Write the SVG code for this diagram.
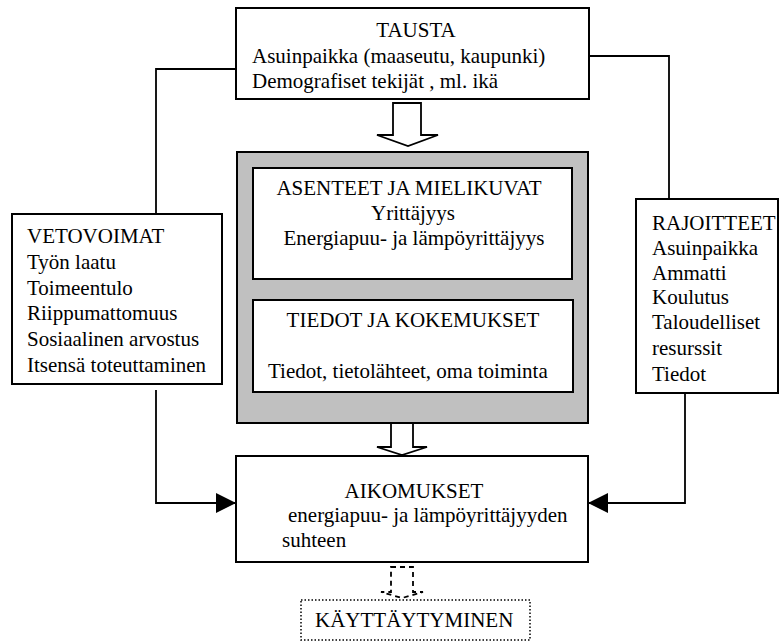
<svg xmlns="http://www.w3.org/2000/svg" width="783" height="642" viewBox="0 0 783 642" font-family="'Liberation Serif', 'DejaVu Serif', serif">
<style>
text{font-family:'Liberation Serif','Times New Roman','DejaVu Serif',serif;font-size:21px;fill:#000}
.box{fill:#fff;stroke:#000;stroke-width:2}
.ln{fill:none;stroke:#000;stroke-width:1.8}
.c{text-anchor:middle}
</style>
<defs>
<marker id="ah" viewBox="0 0 20 20" refX="20" refY="10" markerWidth="20" markerHeight="20" markerUnits="userSpaceOnUse" orient="auto">
<path d="M0,0 L20,10 L0,20 Z" fill="#000"/>
</marker>
</defs>
<rect width="783" height="642" fill="#fff"/>
<g id="connectors">
<polyline class="ln" points="236,69 156,69 156,214"/>
<polyline class="ln" points="589,56 669,56 669,199"/>
<polyline class="ln" points="156,390 156,503 236,503" marker-end="url(#ah)"/>
<polyline class="ln" points="685,393 685,503 588,503" marker-end="url(#ah)"/>
<path class="ln" style="fill:#fff" d="M393,103 L421,103 L421,135 L438,135 L408,146 L377,135 L393,135 Z"/>
<path class="ln" style="fill:#fff" d="M391,423 L413,423 L413,447 L427,447 L402,455 L377,447 L391,447 Z"/>
<path class="ln" style="fill:#fff;stroke-dasharray:5,4" d="M391,567 L413,567 L413,592 L423,592 L402,598 L381,592 L391,592 Z"/>
</g>
<g id="tausta">
<rect class="box" x="236" y="8" width="353" height="91"/>
<text x="416" y="37" class="c">TAUSTA</text>
<text x="252" y="63">Asuinpaikka (maaseutu, kaupunki)</text>
<text x="252" y="88">Demografiset tekijät , ml. ikä</text>
</g>
<g id="vetovoimat">
<rect class="box" x="12" y="214" width="210" height="170"/>
<text x="27" y="243">VETOVOIMAT</text>
<text x="27" y="269">Työn laatu</text>
<text x="27" y="295">Toimeentulo</text>
<text x="27" y="320">Riippumattomuus</text>
<text x="27" y="346">Sosiaalinen arvostus</text>
<text x="27" y="372">Itsensä toteuttaminen</text>
</g>
<g id="rajoitteet">
<rect class="box" x="636" y="199" width="142" height="194"/>
<text x="652" y="230">RAJOITTEET</text>
<text x="652" y="255">Asuinpaikka</text>
<text x="652" y="280">Ammatti</text>
<text x="652" y="304">Koulutus</text>
<text x="652" y="329">Taloudelliset</text>
<text x="652" y="355">resurssit</text>
<text x="652" y="381">Tiedot</text>
</g>
<g id="keskus">
<rect x="237" y="152" width="351" height="271" fill="#c0c0c0" stroke="#000" stroke-width="2"/>
</g>
<g id="asenteet">
<rect class="box" x="253" y="168" width="319" height="111"/>
<text x="409" y="195" class="c">ASENTEET JA MIELIKUVAT</text>
<text x="413" y="220" class="c">Yrittäjyys</text>
<text x="414" y="245" class="c">Energiapuu- ja lämpöyrittäjyys</text>
</g>
<g id="tiedot">
<rect class="box" x="253" y="300" width="320" height="92"/>
<text x="413" y="327" class="c">TIEDOT JA KOKEMUKSET</text>
<text x="268" y="378">Tiedot, tietolähteet, oma toiminta</text>
</g>
<g id="aikomukset">
<rect class="box" x="236" y="456" width="352" height="106"/>
<text x="414" y="498" class="c">AIKOMUKSET</text>
<text x="288" y="522">energiapuu- ja lämpöyrittäjyyden</text>
<text x="282" y="547">suhteen</text>
</g>
<g id="kayttaytyminen">
<rect x="301" y="600" width="229" height="40" fill="#fff" stroke="#000" stroke-width="1.5" stroke-dasharray="1.5,2"/>
<text x="315" y="627">KÄYTTÄYTYMINEN</text>
</g>
</svg>
